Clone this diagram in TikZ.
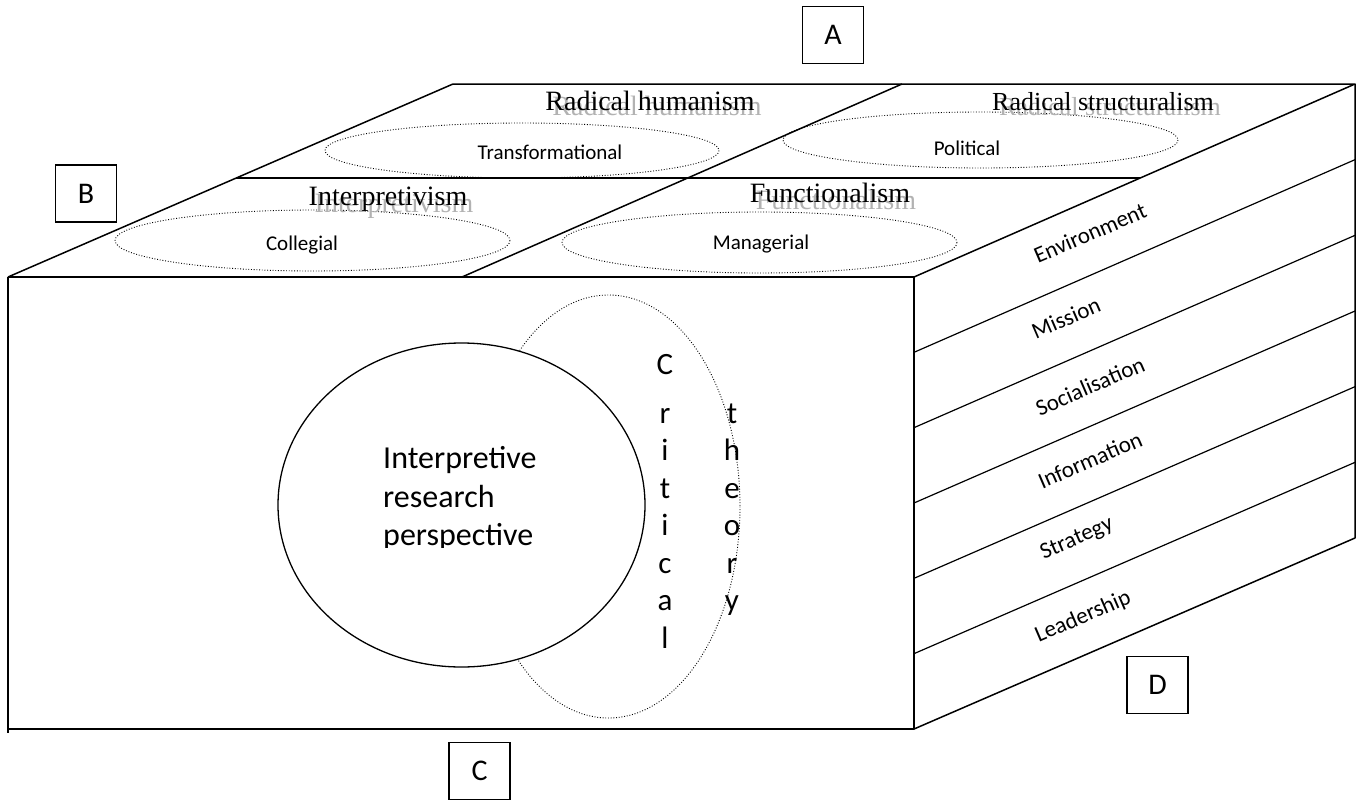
\documentclass[tikz,border=0pt]{standalone}
\usepackage{fontspec}
\usetikzlibrary{calc}
\setmainfont{Carlito}
\newfontfamily\titlefont{Liberation Serif}
\begin{document}
\begin{tikzpicture}[x=1pt,y=-1pt,
  edge/.style={line width=1.5pt, line join=round},
  band/.style={line width=1.2pt},
  dots/.style={line width=0.9pt, dash pattern=on 0.9pt off 1.8pt},
  tag/.style={draw, line width=1.3pt, minimum width=61pt, minimum height=57pt, inner sep=0pt, font=\fontsize{30pt}{34pt}\selectfont},
  paradigm/.style={font=\titlefont\fontsize{28pt}{32pt}\selectfont, inner sep=0pt, anchor=base},
  echo/.style={paradigm, text=black!30},
  model/.style={font=\fontsize{21pt}{25pt}\selectfont, inner sep=0pt},
  layer/.style={font=\fontsize{23pt}{27pt}\selectfont, inner sep=0pt, rotate=23.37},
  bigtext/.style={font=\fontsize{32pt}{38pt}\selectfont, inner sep=0pt, anchor=base west},
  letter/.style={font=\fontsize{31pt}{36pt}\selectfont, inner sep=0pt, anchor=base}]
\useasboundingbox (0,0) rectangle (1364,800);

% corners of the cube
\coordinate (FTL) at (8,277);
\coordinate (FTR) at (914,277);
\coordinate (FBR) at (914,729);
\coordinate (FBL) at (8,729);
\coordinate (BTL) at (453,84);
\coordinate (BTR) at (1355,84);
\coordinate (BBR) at (1355,538);
\coordinate (ML) at (236,178);
\coordinate (MR) at (1140,178);
\coordinate (DT) at (902,84);
\coordinate (DB) at (462,277);

% front face and outline
\draw[edge] (FTL) -- (FTR) -- (FBR) -- (FBL) -- (8,733);
\draw[edge] (FTL) -- (FBL);
\draw[edge] (FTL) -- (BTL) -- (BTR) -- (FTR);
\draw[edge] (BTR) -- (BBR) -- (FBR);
\draw[edge] (ML) -- (MR);
\draw[edge] (DT) -- (DB);

% bands on the side face
\foreach \k in {1,...,5}
  \draw[band] ($(FTR)!\k/6!(FBR)$) -- ($(BTR)!\k/6!(BBR)$);

% paradigm regions on the top face
\draw[dots] (522,150.5) ellipse [x radius=197, y radius=27.5];
\draw[dots] (980.5,140) ellipse [x radius=197.5, y radius=28];
\draw[dots] (312.5,240.5) ellipse [x radius=197.5, y radius=30.5];
\draw[dots] (759.5,242.5) ellipse [x radius=197.5, y radius=30.5];

\node[echo] (rhs) at (657,115) {Radical humanism};
\node[paradigm] (rh) at (650,110) {Radical humanism};
\node[echo, font=\titlefont\fontsize{26pt}{30pt}\selectfont] (rss) at (1110,115) {Radical structuralism};
\node[paradigm, font=\titlefont\fontsize{26pt}{30pt}\selectfont] (rs) at (1103,110) {Radical structuralism};
\node[echo] (ips) at (394,212) {Interpretivism};
\node[paradigm] (ip) at (388,205) {Interpretivism};
\node[echo] (fns) at (836,209) {Functionalism};
\node[paradigm] (fn) at (830,202) {Functionalism};

\node[model] (tr) at (550,152) {Transformational};
\node[model] (po) at (967,148) {Political};
\node[model] (co) at (302,245) {Collegial};
\node[model] (ma) at (761,244) {Managerial};

% side face labels
\node[layer] (env) at (1090,233) {Environment};
\node[layer] (mis) at (1066,318) {Mission};
\node[layer] (soc) at (1090,386) {Socialisation};
\node[layer] (inf) at (1090,460) {Information};
\node[layer] (str) at (1077,539) {Strategy};
\node[layer] (lea) at (1083,617) {Leadership};

% front face: critical theory and the interpretive perspective
\draw[dots] (608.5,506.5) ellipse [x radius=131.5, y radius=211.5];
\draw[line width=1.3pt, fill=white] (461.5,505) ellipse [x radius=183.5, y radius=162];
\begin{scope}
  \clip (280,300) rectangle (640,547);
  \node[bigtext] (ir1) at (383,468) {Interpretive};
  \node[bigtext] (ir2) at (383,507) {research};
  \node[bigtext] (ir3) at (383,545) {perspective};
\end{scope}

\node[letter] (c0) at (665,374) {C};
\foreach \ch [count=\i] in {r,i,t,i,c,a,l}
  \node[letter] (c\i) at (665,{385.5+37.5*\i}) {\ch};
\foreach \ch [count=\i] in {t,h,e,o,r,y}
  \node[letter] (t\i) at (732,{385.5+37.5*\i}) {\ch};

% corner tags
\node[tag] (A) at (833,35) {A};
\node[tag] (B) at (86,193.5) {B};
\node[tag] (C) at (479.5,771) {C};
\node[tag] (D) at (1157.5,685) {D};
\end{tikzpicture}
\end{document}
